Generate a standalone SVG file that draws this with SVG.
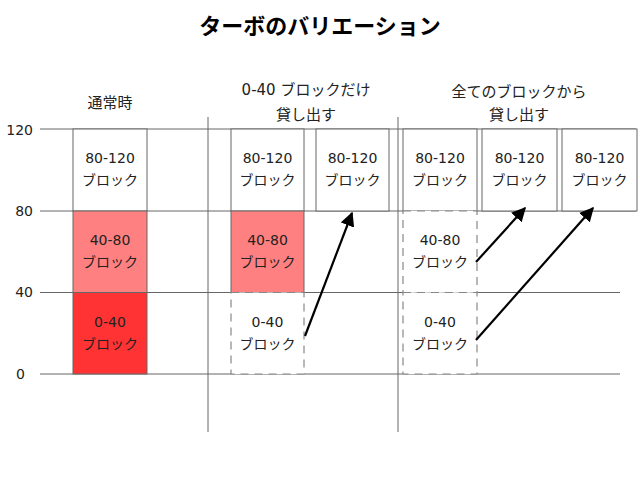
<svg xmlns="http://www.w3.org/2000/svg" width="640" height="480" viewBox="0 0 640 480">
<style>
text{font-family:"DejaVu Sans","Noto Sans CJK JP",sans-serif;fill:#222}
.t{font-family:"Noto Sans CJK JP",sans-serif;font-size:22px;font-weight:bold;fill:#000;text-anchor:middle}
.h{font-size:15px;text-anchor:middle}
.ax{font-size:14px;text-anchor:end}
.b{font-size:14px;text-anchor:middle}
.grid{stroke:#666;stroke-width:1}
.box{fill:#fff;stroke:#666;stroke-width:1}
.pink{fill:#ff8080;stroke:#666;stroke-width:1}
.red{fill:#ff3333;stroke:#666;stroke-width:1}
.dash{fill:#fff;stroke:#888;stroke-width:1.2;stroke-dasharray:8,6}
.arr{stroke:#000;stroke-width:2.2;fill:none;marker-end:url(#ah)}
</style>
<defs>
<marker id="ah" viewBox="0 0 10 10" refX="9" refY="5" markerWidth="6.5" markerHeight="6.5" markerUnits="strokeWidth" orient="auto">
<path d="M0,0 L10,5 L0,10 z" fill="#000"/>
</marker>
</defs>
<rect width="640" height="480" fill="#fff"/>
<text class="t" x="320" y="34">ターボのバリエーション</text>
<g id="grid">
<line class="grid" x1="40" y1="129" x2="636" y2="129"/>
<line class="grid" x1="40" y1="211" x2="636" y2="211"/>
<line class="grid" x1="40" y1="292.5" x2="620" y2="292.5"/>
<line class="grid" x1="40" y1="374" x2="620" y2="374"/>
<line class="grid" x1="208" y1="117" x2="208" y2="432"/>
<line class="grid" x1="398" y1="117" x2="398" y2="432"/>
<text class="ax" x="33" y="135">120</text>
<text class="ax" x="33" y="216">80</text>
<text class="ax" x="33" y="297">40</text>
<text class="ax" x="25" y="379">0</text>
</g>
<g id="headers">
<text class="h" x="110" y="108">通常時</text>
<text class="h" x="306" y="95">0-40 ブロックだけ</text>
<text class="h" x="306" y="120">貸し出す</text>
<text class="h" x="519" y="97">全てのブロックから</text>
<text class="h" x="519" y="120">貸し出す</text>
</g>
<g id="c1-80-120"><rect class="box" x="73" y="129" width="74" height="82"/><text class="b" x="110" y="163">80-120</text><text class="b" x="110" y="185">ブロック</text></g>
<g id="c1-40-80"><rect class="pink" x="73" y="211" width="74" height="81.5"/><text class="b" x="110" y="245">40-80</text><text class="b" x="110" y="267">ブロック</text></g>
<g id="c1-0-40"><rect class="red" x="73" y="292.5" width="74" height="81.5"/><text class="b" x="110" y="327">0-40</text><text class="b" x="110" y="349">ブロック</text></g>
<g id="c2-80-120"><rect class="box" x="231" y="129" width="73" height="82"/><text class="b" x="267.5" y="163">80-120</text><text class="b" x="267.5" y="185">ブロック</text></g>
<g id="c2-40-80"><rect class="pink" x="231" y="211" width="73" height="81.5"/><text class="b" x="267.5" y="245">40-80</text><text class="b" x="267.5" y="267">ブロック</text></g>
<g id="c2-0-40"><rect class="dash" x="231" y="292.5" width="73" height="81.5"/><text class="b" x="267.5" y="327">0-40</text><text class="b" x="267.5" y="349">ブロック</text></g>
<g id="c2-80-120b"><rect class="box" x="316" y="129" width="73" height="82"/><text class="b" x="352.5" y="163">80-120</text><text class="b" x="352.5" y="185">ブロック</text></g>
<g id="c3-80-120"><rect class="box" x="403" y="129" width="74" height="82"/><text class="b" x="440" y="163">80-120</text><text class="b" x="440" y="185">ブロック</text></g>
<g id="c3-40-80"><rect class="dash" x="403" y="211" width="74" height="81.5"/><text class="b" x="440" y="245">40-80</text><text class="b" x="440" y="267">ブロック</text></g>
<g id="c3-0-40"><rect class="dash" x="403" y="292.5" width="74" height="81.5"/><text class="b" x="440" y="327">0-40</text><text class="b" x="440" y="349">ブロック</text></g>
<g id="c3-80-120b"><rect class="box" x="482" y="129" width="75" height="82"/><text class="b" x="519.5" y="163">80-120</text><text class="b" x="519.5" y="185">ブロック</text></g>
<g id="c3-80-120c"><rect class="box" x="562" y="129" width="75" height="82"/><text class="b" x="599.5" y="163">80-120</text><text class="b" x="599.5" y="185">ブロック</text></g>
<g id="connectors">
<line class="arr" x1="305" y1="336" x2="352" y2="213"/>
<line class="arr" x1="476" y1="262" x2="525" y2="208"/>
<line class="arr" x1="476" y1="340" x2="593" y2="208"/>
</g>
</svg>
